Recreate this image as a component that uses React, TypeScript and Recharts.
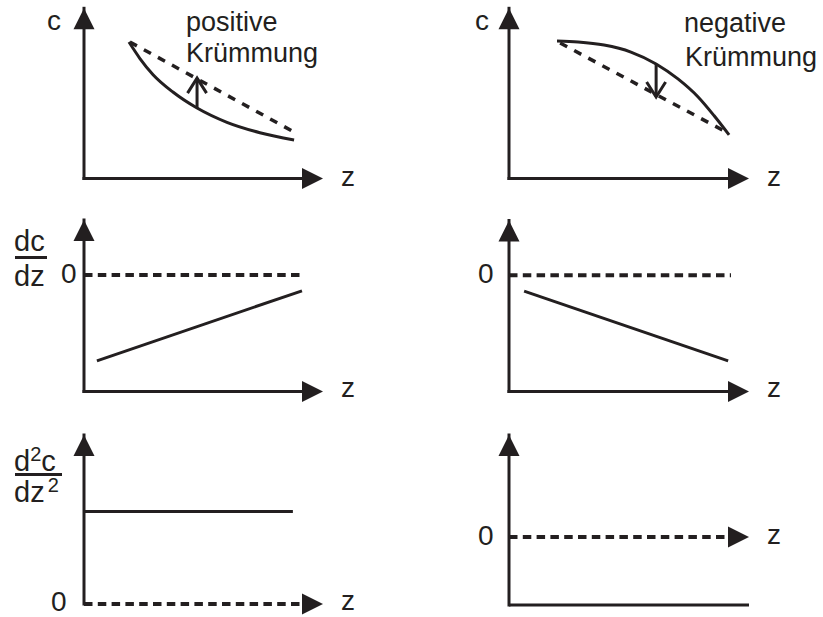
import React from "react";
import { LineChart, Line, XAxis, YAxis, ReferenceLine, ReferenceDot } from "recharts";

const INK = "#231f20";
const FONT = "'Liberation Sans', Arial, Helvetica, sans-serif";

// shared z-axis (0 = y-axis, 10 = arrow tip)
const Z_DOMAIN = [0, 10];

// top row: c(z)
const C_DOMAIN = [0, 10];
const posCurveZ = [1.88, 2.34, 2.89, 3.72, 4.73, 5.98, 7.36, 8.79];
const posCurveC = [8.02, 7.05, 6.1, 5.08, 4.14, 3.3, 2.69, 2.26];
const posChordZ = [1.92, 8.79];
const posChordC = [8.02, 2.73];
const posArrowZ = [4.73, 4.73];
const posArrowC = [4.14, 5.9];

const negCurveZ = [2.0, 2.88, 3.96, 5.08, 6.13, 7.04, 7.88, 8.54, 9.17];
const negCurveC = [8.08, 8.02, 7.84, 7.43, 6.73, 5.85, 4.79, 3.7, 2.56];
const negChordZ = [2.13, 9.13];
const negChordC = [7.96, 2.67];
const negArrowZ = [6.13, 6.13];
const negArrowC = [6.73, 4.79];

// middle row: dc/dz
const SLOPE_DOMAIN = [-6.8, 3.2];
const posSlopeZ = [0.54, 9.12];
const posSlopeV = [-5.01, -0.93];
const negSlopeZ = [0.63, 9.13];
const negSlopeV = [-0.93, -5.01];
const posZeroEnd = 9.16;
const negZeroEnd = 9.25;

// bottom row: d2c/dz2
const SECOND_POS_DOMAIN = [0, 10];
const SECOND_NEG_DOMAIN = [-4, 6];
const posSecondZ = [0, 8.74];
const posSecondV = [5.47, 5.47];
const negSecondZ = [0, 10];
const negSecondV = [-4, -4];

const pts = (zs: number[], vs: number[]) => zs.map((z, i) => ({ z, v: vs[i] }));

const ArrowUp = (p: any) => (
  <polygon points={`${p.cx},${p.cy} ${p.cx - 10.5},${p.cy + 21} ${p.cx + 10.5},${p.cy + 21}`} fill={INK} />
);
const ArrowRight = (p: any) => (
  <polygon points={`${p.cx},${p.cy} ${p.cx - 21},${p.cy - 10.5} ${p.cx - 21},${p.cy + 10.5}`} fill={INK} />
);
const ChevronUp = (p: any) => (
  <polyline
    points={`${p.cx - 9.5},${p.cy + 15} ${p.cx},${p.cy} ${p.cx + 9.5},${p.cy + 15}`}
    fill="none"
    stroke={INK}
    strokeWidth={3}
  />
);
const ChevronDown = (p: any) => (
  <polyline
    points={`${p.cx - 9.5},${p.cy - 15} ${p.cx},${p.cy} ${p.cx + 9.5},${p.cy - 15}`}
    fill="none"
    stroke={INK}
    strokeWidth={3}
  />
);

function Panel({ left, top, width, height, margin, yDomain, children }: any) {
  return (
    <div style={{ position: "absolute", left, top }}>
      <LineChart width={width} height={height} margin={margin}>
        <XAxis type="number" dataKey="z" domain={Z_DOMAIN} hide />
        <YAxis type="number" dataKey="v" domain={yDomain} hide />
        {children}
      </LineChart>
    </div>
  );
}

function yAxisLine(lo: number, hi: number) {
  return [
    <ReferenceLine key="ya" segment={[{ x: 0, y: lo }, { x: 0, y: hi }]} stroke={INK} strokeWidth={3} strokeLinecap="square" ifOverflow="visible" />,
    <ReferenceDot key="yh" x={0} y={hi} r={1} shape={ArrowUp} ifOverflow="visible" />,
  ];
}

function xAxisLine(y: number, dashed = false) {
  return [
    <ReferenceLine
      key="xa"
      segment={[{ x: 0, y }, { x: 9.5, y }]}
      stroke={INK}
      strokeWidth={dashed ? 4 : 3}
      strokeDasharray={dashed ? "8.5 5.3" : undefined}
      strokeLinecap={dashed ? "butt" : "square"}
      ifOverflow="visible"
    />,
    <ReferenceDot key="xh" x={10} y={y} r={1} shape={ArrowRight} ifOverflow="visible" />,
  ];
}

function Txt({ x, base, size = 27, children }: any) {
  return (
    <div
      style={{
        position: "absolute",
        left: x,
        top: base - 0.8465 * size,
        fontSize: size,
        lineHeight: `${size}px`,
        whiteSpace: "nowrap",
      }}
    >
      {children}
    </div>
  );
}

const Bar = ({ x, y, w }: any) => (
  <div style={{ position: "absolute", left: x, top: y, width: w, height: 3, background: INK }} />
);

const solid = { stroke: INK, strokeWidth: 3, dot: false, activeDot: false, isAnimationActive: false };
const dashed = { stroke: INK, strokeWidth: 3.5, strokeDasharray: "8 8", dot: false, activeDot: false, isAnimationActive: false };

export default function App() {
  return (
    <div
      style={{
        position: "fixed",
        left: 0,
        top: 0,
        width: 823,
        height: 617,
        background: "#fff",
        fontFamily: FONT,
        color: INK,
        overflow: "hidden",
      }}
    >
      {/* c(z), positive curvature */}
      <Panel left={0} top={0} width={411} height={205} margin={{ left: 84, right: 88, top: 8.3, bottom: 26.5 }} yDomain={C_DOMAIN}>
        {yAxisLine(0, 10)}
        {xAxisLine(0)}
        <Line data={pts(posChordZ, posChordC)} dataKey="v" type="linear" {...dashed} />
        <Line data={pts(posCurveZ, posCurveC)} dataKey="v" type="monotone" {...solid} />
        <Line data={pts(posArrowZ, posArrowC)} dataKey="v" type="linear" {...solid} />
        <ReferenceDot x={posArrowZ[1]} y={posArrowC[1]} r={1} shape={ChevronUp} />
      </Panel>

      {/* c(z), negative curvature */}
      <Panel left={411} top={0} width={412} height={205} margin={{ left: 98, right: 74, top: 8.3, bottom: 26.5 }} yDomain={C_DOMAIN}>
        {yAxisLine(0, 10)}
        {xAxisLine(0)}
        <Line data={pts(negChordZ, negChordC)} dataKey="v" type="linear" {...dashed} />
        <Line data={pts(negCurveZ, negCurveC)} dataKey="v" type="monotone" {...solid} />
        <Line data={pts(negArrowZ, negArrowC)} dataKey="v" type="linear" {...solid} />
        <ReferenceDot x={negArrowZ[1]} y={negArrowC[1]} r={1} shape={ChevronDown} />
      </Panel>

      {/* dc/dz */}
      <Panel left={0} top={205} width={411} height={205} margin={{ left: 84, right: 88, top: 15, bottom: 18.5 }} yDomain={SLOPE_DOMAIN}>
        {yAxisLine(SLOPE_DOMAIN[0], SLOPE_DOMAIN[1])}
        {xAxisLine(SLOPE_DOMAIN[0])}
        <ReferenceLine segment={[{ x: 0, y: 0 }, { x: posZeroEnd, y: 0 }]} stroke={INK} strokeWidth={4} strokeDasharray="8.5 5.3" ifOverflow="visible" />
        <Line data={pts(posSlopeZ, posSlopeV)} dataKey="v" type="linear" {...solid} />
      </Panel>

      <Panel left={411} top={205} width={412} height={205} margin={{ left: 98, right: 74, top: 15.5, bottom: 18.5 }} yDomain={SLOPE_DOMAIN}>
        {yAxisLine(SLOPE_DOMAIN[0], SLOPE_DOMAIN[1])}
        {xAxisLine(SLOPE_DOMAIN[0])}
        <ReferenceLine segment={[{ x: 0, y: 0 }, { x: negZeroEnd, y: 0 }]} stroke={INK} strokeWidth={4} strokeDasharray="8.5 5.3" ifOverflow="visible" />
        <Line data={pts(negSlopeZ, negSlopeV)} dataKey="v" type="linear" {...solid} />
      </Panel>

      {/* d2c/dz2 */}
      <Panel left={0} top={410} width={411} height={207} margin={{ left: 84, right: 88, top: 25, bottom: 13 }} yDomain={SECOND_POS_DOMAIN}>
        {yAxisLine(0, 10)}
        {xAxisLine(0, true)}
        <Line data={pts(posSecondZ, posSecondV)} dataKey="v" type="linear" {...solid} />
      </Panel>

      <Panel left={411} top={410} width={412} height={207} margin={{ left: 98, right: 74, top: 25, bottom: 12 }} yDomain={SECOND_NEG_DOMAIN}>
        {yAxisLine(SECOND_NEG_DOMAIN[0], SECOND_NEG_DOMAIN[1])}
        {xAxisLine(0, true)}
        <Line data={pts(negSecondZ, negSecondV)} dataKey="v" type="linear" {...solid} />
      </Panel>

      {/* labels */}
      <Txt x={47} base={31} size={28}>c</Txt>
      <Txt x={186} base={32}>positive</Txt>
      <Txt x={186} base={63}>Krümmung</Txt>
      <Txt x={341} base={187} size={28}>z</Txt>

      <Txt x={475} base={31} size={28}>c</Txt>
      <Txt x={684} base={33}>negative</Txt>
      <Txt x={685} base={67}>Krümmung</Txt>
      <Txt x={767} base={187} size={28}>z</Txt>

      <Txt x={14} base={252} size={29}>dc</Txt>
      <Bar x={15} y={256} w={32} />
      <Txt x={14} base={287} size={29}>dz</Txt>
      <Txt x={61} base={284} size={28}>0</Txt>
      <Txt x={341} base={398} size={28}>z</Txt>

      <Txt x={478} base={284} size={28}>0</Txt>
      <Txt x={767} base={398} size={28}>z</Txt>

      <Txt x={14} base={472} size={29}>
        d<span style={{ fontSize: 20, position: "relative", top: -10 }}>2</span>c
      </Txt>
      <Bar x={15} y={473} w={47} />
      <Txt x={14} base={503} size={29}>
        dz<span style={{ fontSize: 20, position: "relative", top: -10, marginLeft: 3 }}>2</span>
      </Txt>
      <Txt x={51} base={612} size={28}>0</Txt>
      <Txt x={341} base={611} size={28}>z</Txt>

      <Txt x={478} base={546} size={28}>0</Txt>
      <Txt x={767} base={545} size={28}>z</Txt>
    </div>
  );
}
